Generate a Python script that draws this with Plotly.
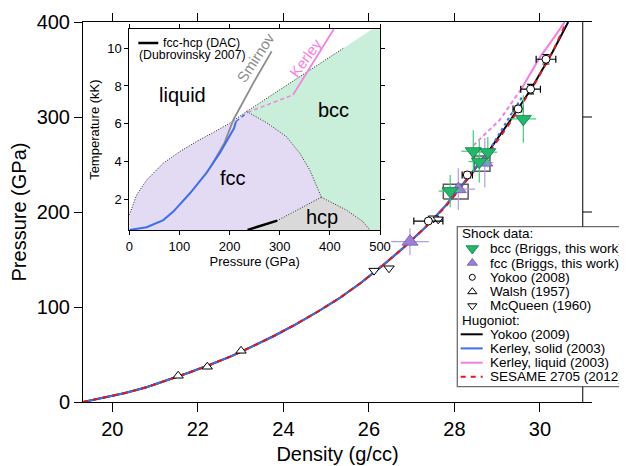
import plotly.graph_objects as go

# ---------------- main panel data : density (g/cc) vs pressure (GPa) ----------------
hug_rho = [19.32, 19.8, 20.3, 20.8, 21.3, 21.8, 22.3, 22.8, 23.3, 23.8, 24.3, 24.8,
           25.3, 25.8, 26.3, 26.8, 27.3, 27.8, 28.3, 28.8, 29.3, 29.8, 30.3, 30.66]
yokoo09_p = [0, 4.5, 9.5, 15.5, 23, 31, 39.5, 48.5, 59, 70, 82, 95,
             109, 125, 143, 162, 183, 207, 235, 264, 296, 330, 369, 400]

kerley_s_rho = [19.32, 19.8, 20.3, 20.8, 21.3, 21.8, 22.3, 22.8, 23.3, 23.8, 24.3, 24.8,
                25.3, 25.8, 26.3, 26.8, 27.3, 27.8, 28.3, 28.8]
kerley_s_p = [0, 4.5, 9.5, 15.5, 23, 31, 39.5, 48.5, 59, 70, 82, 95,
              109, 125, 143, 162, 183, 207, 235, 264]
kerley_s_meta_rho = [28.8, 29.05, 29.3, 29.61]
kerley_s_meta_p = [264, 283, 301, 323]

kerley_l_dash_rho = [28.44, 29.06, 29.57]
kerley_l_dash_p = [270, 297, 330]
kerley_l_rho = [29.57, 30.0, 30.31, 30.58]
kerley_l_p = [330, 363, 382.5, 400]

sesame_rho = [19.32, 19.8, 20.3, 20.8, 21.3, 21.8, 22.3, 22.8, 23.3, 23.8, 24.3, 24.8,
              25.3, 25.8, 26.3, 26.8, 27.3, 27.8, 28.3, 28.8, 29.3, 29.8, 30.3, 30.62]
sesame_p = [0, 4.5, 9.5, 15.5, 23, 31, 39.5, 48.5, 59, 70, 82, 95,
            109, 125, 143, 162, 183, 206, 234, 262, 294, 329, 369, 400]

walsh_rho = [21.54, 22.22, 23.01]
walsh_p = [27.6, 37.1, 53.9]
mcq_rho = [26.12, 26.47, 27.51, 27.62]
mcq_p = [138.3, 140.8, 193.4, 192.3]

y08_rho = [27.39, 28.30, 29.49, 29.78, 30.14]
y08_p = [190.5, 239.0, 308.5, 329.3, 360.8]
y08_drho = [0.34, 0.12, 0.12, 0.23, 0.23]
y08_dp = [2, 3, 3, 5, 5]

fcc_rho = [26.96, 28.09, 28.71]
fcc_p = [168.8, 224, 252]
fcc_drho = [0.44, 0.39, 0.2]
fcc_dp = [14, 22, 26]

bcc_rho = [27.90, 28.44, 28.58, 28.78, 29.61]
bcc_p = [222, 264, 253, 263, 298]
bcc_drho = [0.27, 0.28, 0.25, 0.22, 0.30]
bcc_dp = [17, 22, 22, 16, 25]

box_rho_lo = [27.74, 28.46]
box_rho_hi = [28.32, 28.83]
box_p_lo = [213.7, 243.0]
box_p_hi = [229.1, 258.9]

x_ticks = [20, 22, 24, 26, 28, 30]
y_ticks = [0, 100, 200, 300, 400]

# ---------------- inset data : pressure (GPa) vs temperature (kK) ----------------
melt_p = [0, 14.6, 34.5, 67.7, 101, 134, 167, 200.5, 234]
melt_t = [1.17, 2.23, 3.02, 3.91, 4.53, 5.06, 5.53, 6.03, 6.65]
liqbcc_p = [234, 300, 360, 427]
liqbcc_t = [6.65, 7.80, 8.84, 10.0]
fccbcc_p = [234, 273.6, 313.3, 340, 360, 373, 383]
fccbcc_t = [6.65, 6.06, 5.32, 4.44, 3.55, 2.76, 2.11]
hcpbcc_p = [383, 433, 466, 480]
hcpbcc_t = [2.11, 1.43, 0.82, 0.37]
fcchcp_p = [383, 295, 236]
fcchcp_t = [2.11, 0.87, 0.37]
dac_p = [236, 295]
dac_t = [0.38, 0.87]

ks_pt_p = [0, 34.6, 67.8, 87.8, 121, 154.3, 180.9, 208.8, 212.8]
ks_pt_t = [0.38, 0.52, 0.90, 1.35, 2.32, 3.41, 4.47, 5.76, 6.12]
ks_pt_dash_p = [212.8, 236]
ks_pt_dash_t = [6.12, 6.6]
kl_pt_dash_p = [236, 326.6]
kl_pt_dash_t = [6.6, 7.53]
kl_pt_p = [326.6, 407.6, 410]
kl_pt_t = [7.53, 10.98, 11.1]
smirnov_p = [165, 190, 207.4, 247.3, 283.9]
smirnov_t = [3.85, 5.0, 6.2, 8.15, 9.83]

# legend rows
legend_markers = ["bcc (Briggs, this work)", "fcc (Briggs, this work)", "Yokoo (2008)",
                  "Walsh (1957)", "McQueen (1960)"]
legend_lines = ["Yokoo (2009)", "Kerley, solid (2003)", "Kerley, liquid (2003)",
                "SESAME 2705 (2012)"]

# ---------------- layout geometry (page has an 8px body margin) ----------------
OFF = 8
W, H = 627 - OFF, 466 - OFF
ML, MR, MT, MB = 83 - OFF, 35, 22 - OFF, 64
PW, PH = W - ML - MR, H - MT - MB


def fx(px):
    return (px - OFF - ML) / PW


def fy(py):
    return (H - MB - (py - OFF)) / PH


X_RANGE = [19.315, 31.216]
FONT = "Liberation Sans, Arial, Helvetica, sans-serif"

BLACK = "#000000"
BLUE = "#3d6ef2"
PINK = "#f47fe2"
RED = "#e8141c"
GREEN = "#22b86c"
GREEN_EB = "#3ccf78"
PURPLE = "#9c80d8"
PURPLE_EB = "#b29be6"

fig = go.Figure()

# ---------------- inset ----------------
ix = dict(xaxis="x2", yaxis="y2")
fcc_x = [0] + melt_p + fccbcc_p[1:] + fcchcp_p[1:] + [fcchcp_p[-1], 0]
fcc_y = [0] + melt_t + fccbcc_t[1:] + fcchcp_t[1:] + [0, 0]
fig.add_trace(go.Scatter(x=fcc_x, y=fcc_y, fill="toself", fillcolor="#e3daf4", mode="none",
                         hoverinfo="skip", showlegend=False, **ix))
bcc_x = liqbcc_p + [495, 540, 540, hcpbcc_p[-1] + 3] + hcpbcc_p[::-1] + fccbcc_p[::-1]
bcc_y = liqbcc_t + [11.2, 11.2, 0, 0] + hcpbcc_t[::-1] + fccbcc_t[::-1]
fig.add_trace(go.Scatter(x=bcc_x, y=bcc_y, fill="toself", fillcolor="#c9eed9", mode="none",
                         hoverinfo="skip", showlegend=False, **ix))
hcp_x = [fcchcp_p[-1]] + fcchcp_p[::-1] + hcpbcc_p[1:] + [hcpbcc_p[-1] + 3]
hcp_y = [0] + fcchcp_t[::-1] + hcpbcc_t[1:] + [0]
fig.add_trace(go.Scatter(x=hcp_x, y=hcp_y, fill="toself", fillcolor="#d9d9d9", mode="none",
                         hoverinfo="skip", showlegend=False, **ix))
for bx, by in [(melt_p, melt_t), (liqbcc_p, liqbcc_t), (fccbcc_p, fccbcc_t),
               (hcpbcc_p, hcpbcc_t), (fcchcp_p, fcchcp_t)]:
    fig.add_trace(go.Scatter(x=bx, y=by, mode="lines", line=dict(color="#222", width=1, dash="1px,1.6px"),
                             hoverinfo="skip", showlegend=False, **ix))
fig.add_trace(go.Scatter(x=dac_p, y=dac_t, mode="lines", line=dict(color=BLACK, width=2.5),
                         showlegend=False, **ix))
fig.add_trace(go.Scatter(x=smirnov_p, y=smirnov_t, mode="lines", line=dict(color="#8c8c8c", width=1.8),
                         showlegend=False, **ix))
fig.add_trace(go.Scatter(x=ks_pt_p, y=ks_pt_t, mode="lines", line=dict(color=BLUE, width=2),
                         showlegend=False, **ix))
fig.add_trace(go.Scatter(x=ks_pt_dash_p, y=ks_pt_dash_t, mode="lines",
                         line=dict(color=BLUE, width=1.5, dash="4px,3px"), showlegend=False, **ix))
fig.add_trace(go.Scatter(x=kl_pt_dash_p, y=kl_pt_dash_t, mode="lines",
                         line=dict(color=PINK, width=1.5, dash="4px,3px"), showlegend=False, **ix))
fig.add_trace(go.Scatter(x=kl_pt_p, y=kl_pt_t, mode="lines", line=dict(color=PINK, width=1.8),
                         showlegend=False, **ix))
# inset legend key line
fig.add_trace(go.Scatter(x=[18, 57.8], y=[10.27, 10.27], mode="lines", line=dict(color=BLACK, width=2.5),
                         showlegend=False, cliponaxis=False, **ix))

# ---------------- main panel ----------------
fig.add_trace(go.Scatter(x=hug_rho, y=yokoo09_p, mode="lines", line=dict(color=BLACK, width=2),
                         showlegend=False))
fig.add_trace(go.Scatter(x=kerley_s_rho, y=kerley_s_p, mode="lines", line=dict(color=BLUE, width=2),
                         showlegend=False))
fig.add_trace(go.Scatter(x=kerley_s_meta_rho, y=kerley_s_meta_p, mode="lines",
                         line=dict(color=BLUE, width=2, dash="3px,3px"), showlegend=False))
fig.add_trace(go.Scatter(x=kerley_l_dash_rho, y=kerley_l_dash_p, mode="lines",
                         line=dict(color=PINK, width=2, dash="4px,3px"), showlegend=False))
fig.add_trace(go.Scatter(x=kerley_l_rho, y=kerley_l_p, mode="lines", line=dict(color=PINK, width=2),
                         showlegend=False))
fig.add_trace(go.Scatter(x=sesame_rho, y=sesame_p, mode="lines",
                         line=dict(color=RED, width=2, dash="5px,5px"), showlegend=False))

# gray boxes
for i in range(len(box_rho_lo)):
    fig.add_trace(go.Scatter(
        x=[box_rho_lo[i], box_rho_hi[i], box_rho_hi[i], box_rho_lo[i], box_rho_lo[i]],
        y=[box_p_lo[i], box_p_lo[i], box_p_hi[i], box_p_hi[i], box_p_lo[i]],
        mode="lines", line=dict(color="#5a5a5a", width=1.5), showlegend=False))

fig.add_trace(go.Scatter(x=walsh_rho, y=walsh_p, mode="markers",
                         marker=dict(symbol="triangle-up", size=9, color="white",
                                     line=dict(color=BLACK, width=1)), showlegend=False))
fig.add_trace(go.Scatter(x=mcq_rho, y=mcq_p, mode="markers",
                         marker=dict(symbol="triangle-down", size=9, color="white",
                                     line=dict(color=BLACK, width=1)), showlegend=False))
fig.add_trace(go.Scatter(x=y08_rho, y=y08_p, mode="markers",
                         error_x=dict(type="data", array=y08_drho, color=BLACK, thickness=1.2, width=3.5),
                         error_y=dict(type="data", array=y08_dp, color=BLACK, thickness=1.2, width=3.5),
                         marker=dict(symbol="circle", size=8, color="white",
                                     line=dict(color=BLACK, width=1)), showlegend=False))
fig.add_trace(go.Scatter(x=fcc_rho, y=fcc_p, mode="markers",
                         error_x=dict(type="data", array=fcc_drho, color=PURPLE_EB, thickness=1.2, width=0),
                         error_y=dict(type="data", array=fcc_dp, color=PURPLE_EB, thickness=1.2, width=0),
                         marker=dict(symbol="triangle-up", size=14, color=PURPLE,
                                     line=dict(color="#6c55a8", width=0.8)), showlegend=False))
fig.add_trace(go.Scatter(x=bcc_rho, y=bcc_p, mode="markers",
                         error_x=dict(type="data", array=bcc_drho, color=GREEN_EB, thickness=1.2, width=0),
                         error_y=dict(type="data", array=bcc_dp, color=GREEN_EB, thickness=1.2, width=0),
                         marker=dict(symbol="triangle-down", size=14, color=GREEN,
                                     line=dict(color="#137a44", width=0.8)), showlegend=False))

# ---------------- legend (manual) ----------------
lg = dict(xaxis="x3", yaxis="y3", showlegend=False, cliponaxis=False, hoverinfo="skip")
rows = [234, 248.5, 263, 277.3, 291.7, 305.8, 320, 334.3, 348.4, 362.7, 376.8]
kx = fx(472.3)
marker_styles = [
    dict(symbol="triangle-down", size=11, color=GREEN, line=dict(color="#137a44", width=0.8)),
    dict(symbol="triangle-up", size=9, color=PURPLE, line=dict(color="#6c55a8", width=0.8)),
    dict(symbol="circle", size=6, color="white", line=dict(color=BLACK, width=1)),
    dict(symbol="triangle-up", size=8, color="white", line=dict(color=BLACK, width=1)),
    dict(symbol="triangle-down", size=8, color="white", line=dict(color=BLACK, width=1)),
]
for i, ms in enumerate(marker_styles):
    fig.add_trace(go.Scatter(x=[kx], y=[fy(rows[1 + i])], mode="markers", marker=ms, **lg))
line_styles = [dict(color=BLACK, width=2), dict(color=BLUE, width=2), dict(color=PINK, width=2),
               dict(color=RED, width=2, dash="5px,5px")]
for i, ls in enumerate(line_styles):
    fig.add_trace(go.Scatter(x=[fx(460.7), fx(482.7)], y=[fy(rows[7 + i])] * 2, mode="lines",
                             line=ls, **lg))

annotations = []
LEGF = dict(family=FONT, size=13.5, color=BLACK)
annotations.append(dict(text="Shock data:", x=fx(459.5), y=fy(rows[0]), xref="paper", yref="paper",
                        xanchor="left", yanchor="middle", showarrow=False, font=LEGF))
annotations.append(dict(text="Hugoniot:", x=fx(459.5), y=fy(rows[6]), xref="paper", yref="paper",
                        xanchor="left", yanchor="middle", showarrow=False, font=LEGF))
for i, t in enumerate(legend_markers):
    annotations.append(dict(text=t, x=fx(488), y=fy(rows[1 + i]), xref="paper", yref="paper",
                            xanchor="left", yanchor="middle", showarrow=False, font=LEGF))
for i, t in enumerate(legend_lines):
    annotations.append(dict(text=t, x=fx(488), y=fy(rows[7 + i]), xref="paper", yref="paper",
                            xanchor="left", yanchor="middle", showarrow=False, font=LEGF))


def inset_text(t, x, y, size, color=BLACK, angle=0, anchor="center"):
    annotations.append(dict(text=t, x=x, y=y, xref="x2", yref="y2", showarrow=False,
                            xanchor=anchor, yanchor="middle", textangle=angle,
                            font=dict(family=FONT, size=size, color=color)))


inset_text("liquid", 107, 7.53, 20)
inset_text("bcc", 408, 6.73, 20)
inset_text("fcc", 207, 3.11, 20)
inset_text("hcp", 385, 1.05, 20)
inset_text("Smirnov", 252, 9.5, 15, "#8c8c8c", -57)
inset_text("Kerley", 352, 9.5, 15, PINK, -54)
inset_text("fcc-hcp (DAC)", 63, 10.27, 12.3, anchor="left")
inset_text("(Dubrovinsky 2007)", 15, 9.65, 12.3, anchor="left")

# ---------------- shapes: legend box + right axis ----------------
shapes = [
    dict(type="rect", xref="paper", yref="paper", x0=fx(457.3), x1=fx(625), y0=fy(386.7), y1=fy(226.7),
         line=dict(color="#6e6e6e", width=1.3), fillcolor="rgba(0,0,0,0)", layer="above"),
    dict(type="line", xref="x", yref="y", x0=31.0, x1=31.0, y0=0, y1=16.1, line=dict(color=BLACK, width=1)),
    dict(type="line", xref="x", yref="y", x0=31.0, x1=31.0, y0=184.5, y1=400, line=dict(color=BLACK, width=1)),
]
for p in [200, 300]:
    shapes.append(dict(type="line", xref="x", yref="y", x0=31.0, x1=X_RANGE[1], y0=p, y1=p,
                       line=dict(color=BLACK, width=1)))

axis_common = dict(showgrid=False, zeroline=False, showline=True, linecolor=BLACK, linewidth=1,
                   ticks="outside", tickcolor=BLACK, tickwidth=1, automargin=False)

fig.update_layout(
    width=W, height=H,
    margin=dict(l=ML, r=MR, t=MT, b=MB, pad=0, autoexpand=False),
    paper_bgcolor="white", plot_bgcolor="rgba(0,0,0,0)",
    font=dict(family=FONT, color=BLACK),
    showlegend=False,
    xaxis=dict(range=X_RANGE, tickvals=x_ticks, ticklen=8.5, mirror="ticks",
               tickfont=dict(size=20), title=dict(text="Density (g/cc)", font=dict(size=20), standoff=8),
               **axis_common),
    yaxis=dict(range=[0, 400], tickvals=y_ticks, ticklen=8,
               tickfont=dict(size=20), title=dict(text="Pressure (GPa)", font=dict(size=20), standoff=4),
               **axis_common),
    xaxis2=dict(domain=[fx(129.3), fx(380)], anchor="y2", range=[0, 500], tickvals=[0, 100, 200, 300, 400, 500],
                ticklen=4, mirror="ticks", tickfont=dict(size=13), title=dict(text="Pressure (GPa)",
                font=dict(size=13), standoff=2), **axis_common),
    yaxis2=dict(domain=[fy(230), fy(29.3)], anchor="x2", range=[0.375, 11.0], tickvals=[2, 4, 6, 8, 10],
                ticklen=4, mirror="ticks", tickfont=dict(size=13), title=dict(text="Temperature (kK)",
                font=dict(size=13), standoff=4), **axis_common),
    xaxis3=dict(domain=[0, 1], range=[0, 1], visible=False, anchor="y3", fixedrange=True),
    yaxis3=dict(domain=[0, 1], range=[0, 1], visible=False, anchor="x3", fixedrange=True),
    annotations=annotations,
    shapes=shapes,
)

fig.write_html("out.html")
